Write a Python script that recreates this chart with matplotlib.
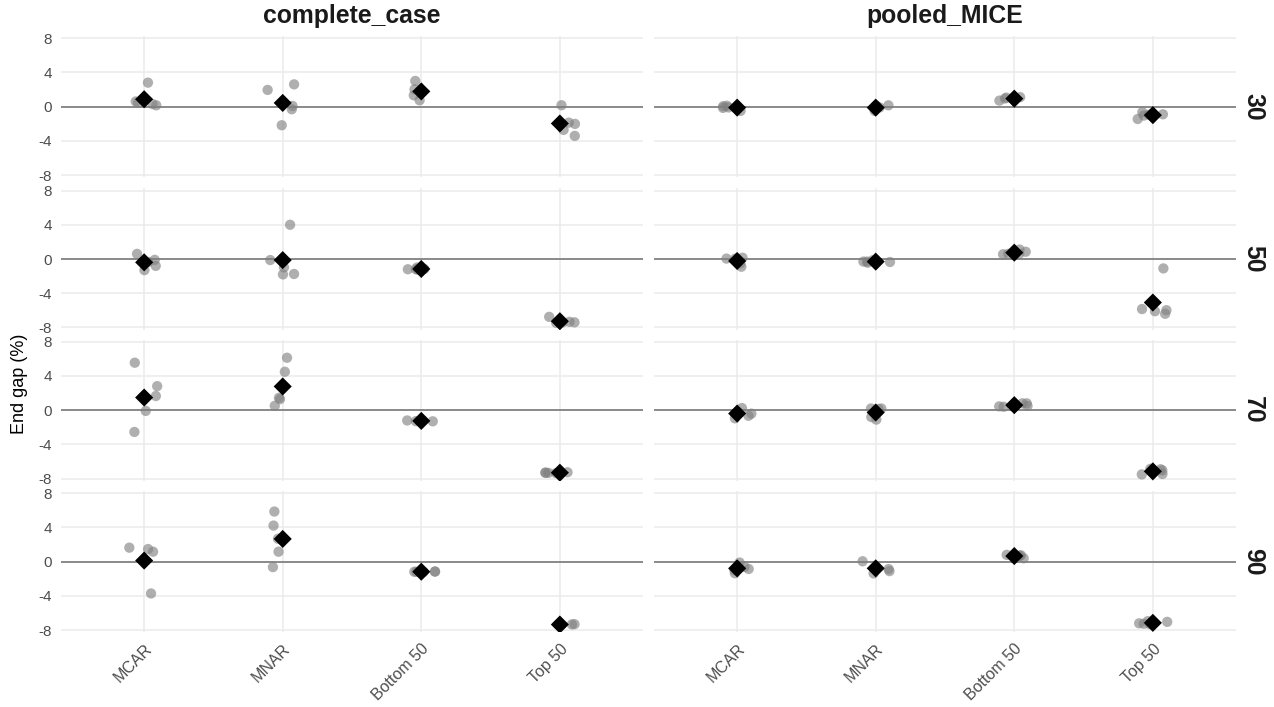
import numpy as np
import matplotlib
matplotlib.use("Agg")
import matplotlib.pyplot as plt

plt.rcParams['font.family'] = ['Liberation Sans', 'DejaVu Sans']

# missingness mechanisms on the x axis, one row per missing proportion
categories = ["MCAR", "MNAR", "Bottom 50", "Top 50"]
proportions = ["30", "50", "70", "90"]
methods = ["complete_case", "pooled_MICE"]

# end gap (%) per replicate, grouped by mechanism
cc_30 = [[2.8, 0.15, 0.3, 0.6, 0.45],
         [2.6, 1.95, 0.08, -0.31, -2.18],
         [3.0, 2.02, 1.32, 0.74, 1.8],
         [0.16, -2.02, -1.87, -2.72, -3.42]]
cc_50 = [[0.6, -0.8, -1.3, -0.1, -0.35],
         [4.0, -0.12, -0.98, -1.8, -1.75],
         [-1.0, -1.17, -1.2, -1.25, -1.2],
         [-6.76, -7.34, -7.46, -7.4, -7.4]]
cc_70 = [[5.55, 2.81, -0.08, -2.54, 1.66],
         [6.13, 4.49, 1.45, 1.29, 0.51],
         [-1.2, -1.3, -1.25, -1.22, -1.28],
         [-7.25, -7.3, -7.35, -7.3, -7.32]]
cc_90 = [[1.64, 1.48, 1.17, 0.08, -3.71],
         [5.86, 4.22, 1.17, -0.63, 2.68],
         [-1.15, -1.2, -1.17, -1.18, -1.15],
         [-7.34, -7.3, -7.38, -7.35, -7.33]]

mice_30 = [[-0.1, 0.1, -0.5, 0.05, -0.15],
           [0.1, -0.5, 0.15, -0.1, -0.25],
           [0.85, 1.05, 0.7, 0.95, 1.1],
           [-1.05, -0.95, -1.45, -0.9, -0.65]]
mice_50 = [[-0.5, -0.9, 0.15, 0.05, 0.05],
           [-0.43, -0.15, -0.3, -0.35, -0.3],
           [1.1, 0.6, 0.85, 0.6, 0.55],
           [-1.1, -5.98, -6.4, -6.1, -5.85]]
mice_70 = [[-0.4, 0.25, -0.95, -0.2, -0.65],
           [0.2, 0.15, 0.2, -0.8, -1.1],
           [0.8, 0.8, 0.4, 0.5, 0.45],
           [-6.9, -7.03, -7.5, -6.85, -7.45]]
mice_90 = [[-0.6, -0.1, -1.35, -0.85, -1.0],
           [-0.86, 0.05, -1.37, -0.6, -1.1],
           [0.8, 0.4, 0.7, 0.75, 0.65],
           [-7.03, -6.95, -7.3, -7.25, -7.2]]

grid = [[cc_30, mice_30],
        [cc_50, mice_50],
        [cc_70, mice_70],
        [cc_90, mice_90]]

W, H = 1274, 707
fig = plt.figure(figsize=(W / 100, H / 100), dpi=100)

col_left = [61, 654]
col_w = 582
row_top = [36, 188.4, 339.6, 491.1]
row_h = 141.2

rng = np.random.default_rng(7)
text_col = '#4D4D4D'

for r, row in enumerate(grid):
    for c, groups in enumerate(row):
        ax = fig.add_axes([col_left[c] / W, 1 - (row_top[r] + row_h) / H,
                           col_w / W, row_h / H])
        ax.set_xlim(0.4, 4.6)
        ax.set_ylim(-8.25, 8.25)
        ax.set_xticks(range(1, 5))
        ax.set_yticks([-8, -4, 0, 4, 8])
        ax.grid(True, color='#EBEBEB', lw=1.1, zorder=0)
        ax.set_axisbelow(True)
        for s in ax.spines.values():
            s.set_visible(False)
        ax.tick_params(length=0, labelsize=11, colors=text_col, pad=6.5)
        ax.tick_params(axis='x', labelsize=11.5)
        ax.axhline(0, color='#6E6E6E', lw=1.1, zorder=1)

        for i, vals in enumerate(groups):
            vals = np.array(vals)
            xs = i + 1 + rng.uniform(-0.11, 0.11, len(vals))
            ax.scatter(xs, vals, s=55, color='#7F7F7F', alpha=0.62,
                       edgecolors='none', zorder=2)
            ax.scatter([i + 1], [vals.mean()], s=85, marker='D',
                       color='black', edgecolors='none', zorder=3)

        if c == 0:
            ax.set_yticklabels(['-8', '-4', '0', '4', '8'])
        else:
            ax.set_yticklabels([])
        if r == len(grid) - 1:
            ax.set_xticklabels(categories, rotation=45, ha='right', va='top',
                               rotation_mode='anchor')
        else:
            ax.set_xticklabels([])

        if r == 0:
            ax.set_title(methods[c], fontsize=17.8, fontweight='bold',
                         color='#1A1A1A', pad=9)
        if c == 1:
            ax.text(1.0 + 17 / col_w, 0.5, proportions[r], transform=ax.transAxes,
                    rotation=-90, ha='center', va='center', fontsize=17.8,
                    fontweight='bold', color='#1A1A1A')

fig.text(20 / W, 1 - 384 / H, "End gap (%)", rotation=90, ha='center',
         va='center', fontsize=13, color='black')

fig.savefig("out.png", dpi=100)
